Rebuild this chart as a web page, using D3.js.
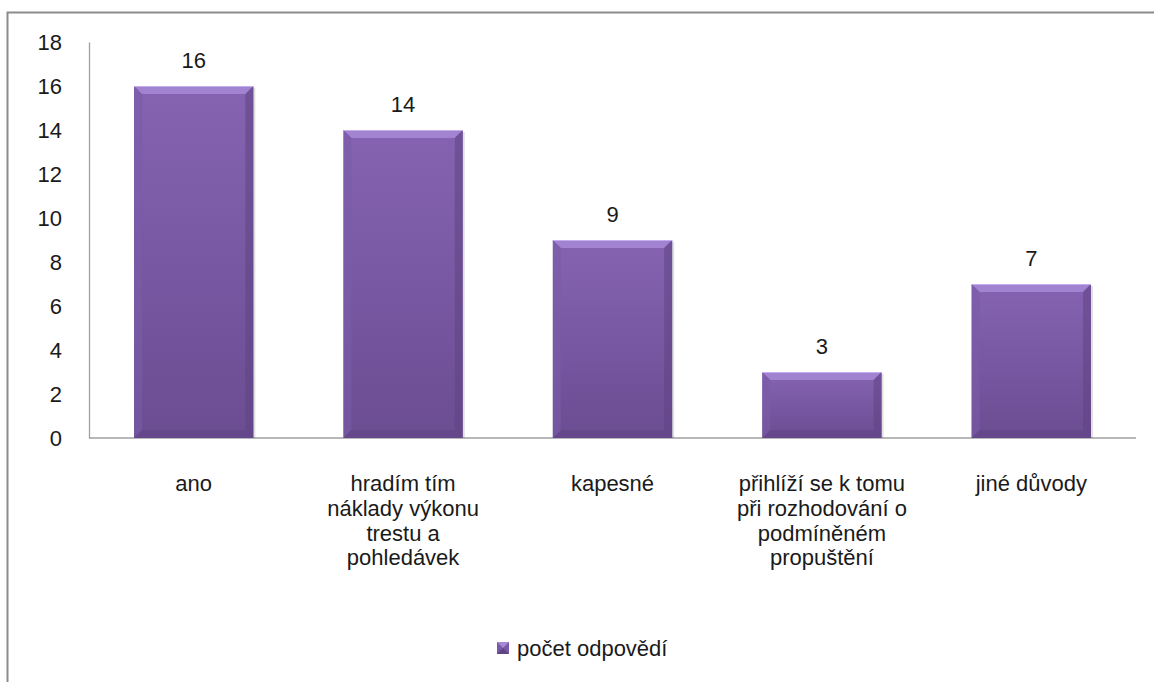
<!DOCTYPE html>
<html>
<head>
<meta charset="utf-8">
<script src="https://cdn.jsdelivr.net/npm/d3@7"></script>
<style>
  html, body { margin: 0; padding: 0; background: #fff; }
  svg { display: block; }
  text { font-family: 'Liberation Sans', Arial, sans-serif; fill: #1a1a1a; }
</style>
</head>
<body>
<svg id="chart"></svg>
<script>
// data
const categories = [
  'ano',
  'hradím tím\nnáklady výkonu\ntrestu a\npohledávek',
  'kapesné',
  'přihlíží se k tomu\npři rozhodování o\npodmíněném\npropuštění',
  'jiné důvody'
]
const values = [16, 14, 9, 3, 7]
const yTicks = [0, 2, 4, 6, 8, 10, 12, 14, 16, 18]
const seriesName = 'počet odpovědí'

const width = 1154
const height = 682
const margin = { top: 42, right: 18, bottom: 244, left: 89 }
const fontSize = '22px'
const fontFamily = "'Liberation Sans', Arial, sans-serif"

const svg = d3.select('#chart').attr('width', width).attr('height', height)

// outer frame (only top and left edges are visible in the picture)
svg.append('path')
  .attr('d', `M7.5,${height} V12.5 H${width}`)
  .attr('fill', 'none')
  .attr('stroke', '#8c8c8c')
  .attr('stroke-width', 2)

const defs = svg.append('defs')
const body = defs.append('linearGradient').attr('id', 'barBody')
  .attr('x1', 0).attr('y1', 0).attr('x2', 0).attr('y2', 1)
body.append('stop').attr('offset', '0%').attr('stop-color', '#8563b2')
body.append('stop').attr('offset', '100%').attr('stop-color', '#6b4d92')

const x = d3.scaleBand()
  .domain(categories)
  .range([margin.left, width - margin.right])
  .paddingInner(0.43)
  .paddingOuter(0.215)

const y = d3.scaleLinear()
  .domain([0, 18])
  .range([height - margin.bottom, margin.top])

// axes
const yAxis = d3.axisLeft(y).tickValues(yTicks).tickSize(0).tickPadding(27)
svg.append('g')
  .attr('transform', `translate(${margin.left},0)`)
  .call(yAxis)
  .call(g => g.select('.domain').attr('stroke', '#a0a0a0').attr('stroke-width', 1.3))
  .call(g => g.selectAll('text').style('font-size', fontSize).style('font-family', fontFamily).attr('fill', '#1a1a1a'))

svg.append('line')
  .attr('x1', margin.left).attr('x2', width - margin.right)
  .attr('y1', y(0)).attr('y2', y(0))
  .attr('stroke', '#a0a0a0').attr('stroke-width', 1.5)

// bars with a bevel look
const bev = 8
const bars = svg.append('g').selectAll('g').data(values).enter().append('g')

bars.each(function (d, i) {
  const g = d3.select(this)
  const x0 = x(categories[i])
  const x1 = x0 + x.bandwidth()
  const y0 = y(d)
  const y1 = y(0)
  // soft shadow on the right
  g.append('rect')
    .attr('x', x0 + 2).attr('y', y0 + 2)
    .attr('width', x.bandwidth()).attr('height', y1 - y0 - 2)
    .attr('fill', '#000').attr('opacity', 0.12)
  g.append('rect')
    .attr('x', x0).attr('y', y0)
    .attr('width', x.bandwidth()).attr('height', y1 - y0)
    .attr('fill', 'url(#barBody)')
  // top bevel
  g.append('polygon')
    .attr('points', [[x0, y0], [x1, y0], [x1 - bev, y0 + bev], [x0 + bev, y0 + bev]].join(' '))
    .attr('fill', '#a283d2')
  // left bevel
  g.append('polygon')
    .attr('points', [[x0, y0], [x0 + bev, y0 + bev], [x0 + bev, y1 - bev], [x0, y1]].join(' '))
    .attr('fill', '#7a5ca8').attr('opacity', 0.6)
  // right bevel
  g.append('polygon')
    .attr('points', [[x1, y0], [x1 - bev, y0 + bev], [x1 - bev, y1 - bev], [x1, y1]].join(' '))
    .attr('fill', '#5f4384').attr('opacity', 0.55)
  // bottom bevel
  g.append('polygon')
    .attr('points', [[x0, y1], [x0 + bev, y1 - bev], [x1 - bev, y1 - bev], [x1, y1]].join(' '))
    .attr('fill', '#5e4483').attr('opacity', 0.5)
  g.append('line')
    .attr('x1', x0).attr('x2', x1).attr('y1', y0 + 0.5).attr('y2', y0 + 0.5)
    .attr('stroke', '#c4aef0').attr('stroke-width', 1)
})

// value labels
svg.append('g').selectAll('text').data(values).enter().append('text')
  .attr('x', (d, i) => x(categories[i]) + x.bandwidth() / 2)
  .attr('y', d => y(d) - 18)
  .attr('text-anchor', 'middle')
  .style('font-size', fontSize)
  .text(d => d)

// category labels
const lineH = 24.8
svg.append('g').selectAll('text').data(categories).enter().append('text')
  .attr('text-anchor', 'middle')
  .style('font-size', fontSize)
  .each(function (d) {
    const t = d3.select(this)
    d.split('\n').forEach((line, k) => {
      t.append('tspan')
        .attr('x', x(d) + x.bandwidth() / 2)
        .attr('y', 491 + k * lineH)
        .text(line)
    })
  })

// legend
const legend = svg.append('g').attr('transform', 'translate(497,642)')
legend.append('rect').attr('width', 12).attr('height', 12).attr('fill', '#7a5aa8')
legend.append('polygon').attr('points', '0,0 12,0 6,6').attr('fill', '#a58ad2')
legend.append('polygon').attr('points', '0,12 12,12 6,6').attr('fill', '#5e4483')
legend.append('text')
  .attr('x', 20).attr('y', 14)
  .style('font-size', fontSize)
  .text(seriesName)
</script>
</body>
</html>
